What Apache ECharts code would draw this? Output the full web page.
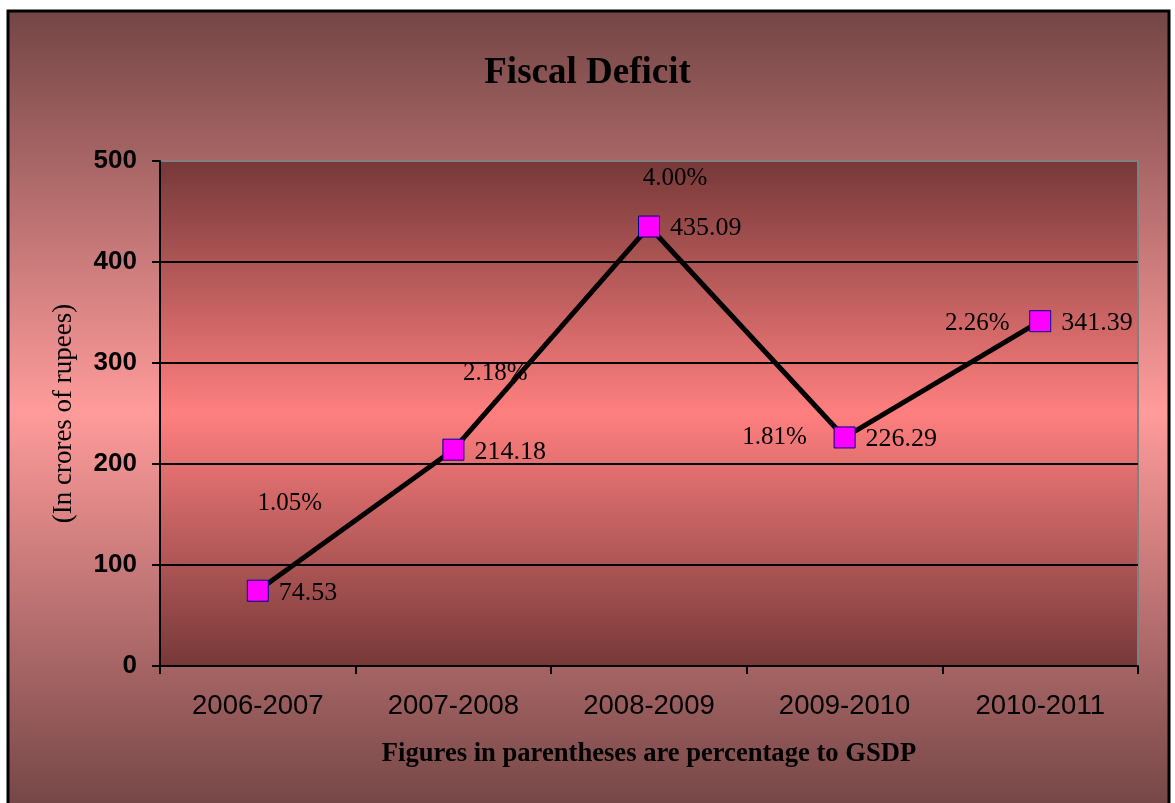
<!DOCTYPE html>
<html>
<head>
<meta charset="utf-8">
<title>Fiscal Deficit</title>
<script src="https://cdn.jsdelivr.net/npm/echarts@6/dist/echarts.min.js"></script>
<style>
  html, body { margin: 0; padding: 0; background: #fff; }
  #main { width: 1175px; height: 803px; }
</style>
</head>
<body>
<div id="main"></div>
<script>
// data
const years = ['2006-2007', '2007-2008', '2008-2009', '2009-2010', '2010-2011'];
const deficit = [74.53, 214.18, 435.09, 226.29, 341.39];
const gsdpPct = ['1.05%', '2.18%', '4.00%', '1.81%', '2.26%'];
const yTicks = { min: 0, max: 500, interval: 100 };

// where the percentage labels sit relative to each point (px)
const pctOffsets = [[32, -87], [42, -76], [26, -48], [-70, 0], [-63, 2]];

const serif = 'Liberation Serif';
const sans = 'Liberation Sans';

let chart = echarts.init(document.getElementById('main'));
let option = {
  backgroundColor: '#fff',
  animation: false,
  graphic: [
    {
      type: 'rect',
      z: -10,
      shape: { x: 8, y: 11, width: 1161, height: 800 },
      style: {
        fill: {
          type: 'linear', x: 0, y: 0, x2: 0, y2: 1,
          colorStops: [
            { offset: 0, color: '#734545' },
            { offset: 0.5, color: '#ff9b9b' },
            { offset: 1, color: '#734545' }
          ]
        },
        stroke: '#000',
        lineWidth: 3
      }
    }
  ],
  title: {
    text: 'Fiscal Deficit',
    left: 'center',
    top: 50,
    textStyle: { fontFamily: serif, fontWeight: 'bold', fontSize: 37, color: '#000' }
  },
  grid: {
    left: 160, top: 161, right: 37, bottom: 137,
    outerBoundsMode: 'none',
    show: true,
    borderColor: '#808080',
    borderWidth: 2,
    backgroundColor: {
      type: 'linear', x: 0, y: 0, x2: 0, y2: 1,
      colorStops: [
        { offset: 0, color: '#763838' },
        { offset: 0.5, color: '#ff7f7f' },
        { offset: 1, color: '#763838' }
      ]
    }
  },
  xAxis: {
    type: 'category',
    data: years,
    boundaryGap: true,
    name: 'Figures in parentheses are percentage to GSDP',
    nameLocation: 'middle',
    nameGap: 75,
    nameTextStyle: { fontFamily: serif, fontWeight: 'bold', fontSize: 26.6, color: '#000' },
    axisLine: { lineStyle: { color: '#000', width: 2 } },
    axisTick: { show: true, length: 8, lineStyle: { color: '#000', width: 2 } },
    axisLabel: { fontFamily: sans, fontSize: 27.5, color: '#000', margin: 26 },
    splitLine: { show: false }
  },
  yAxis: {
    type: 'value',
    min: yTicks.min,
    max: yTicks.max,
    interval: yTicks.interval,
    name: '(In crores of rupees)',
    nameLocation: 'middle',
    nameGap: 83,
    nameTextStyle: { fontFamily: serif, fontSize: 27, color: '#000' },
    axisLine: { show: true, lineStyle: { color: '#000', width: 2 } },
    axisTick: { show: true, length: 8, lineStyle: { color: '#000', width: 2 } },
    axisLabel: { fontFamily: sans, fontWeight: 'bold', fontSize: 26, color: '#000', margin: 23 },
    splitLine: { show: true, showMaxLine: false, lineStyle: { color: '#000', width: 2 } }
  },
  series: [
    {
      name: 'Fiscal Deficit',
      type: 'line',
      data: deficit,
      symbol: 'rect',
      symbolSize: 21,
      lineStyle: { color: '#000', width: 5 },
      itemStyle: { color: '#ff00ff', borderColor: '#000080', borderWidth: 1 },
      label: {
        show: true,
        position: 'right',
        distance: 10,
        offset: [0, 2],
        fontFamily: serif,
        fontSize: 26,
        color: '#000',
        formatter: (p) => p.value.toFixed(2)
      },
      z: 3
    },
    {
      name: 'GSDP %',
      type: 'scatter',
      data: deficit.map((v, i) => ({
        value: v,
        label: { offset: pctOffsets[i] }
      })),
      symbolSize: 1,
      itemStyle: { color: 'rgba(0,0,0,0)', opacity: 1 },
      label: {
        show: true,
        position: 'inside',
        fontFamily: serif,
        fontSize: 25,
        color: '#000',
        opacity: 1,
        formatter: (p) => gsdpPct[p.dataIndex]
      },
      silent: true
    }
  ]
};
option && chart.setOption(option);
</script>
</body>
</html>
